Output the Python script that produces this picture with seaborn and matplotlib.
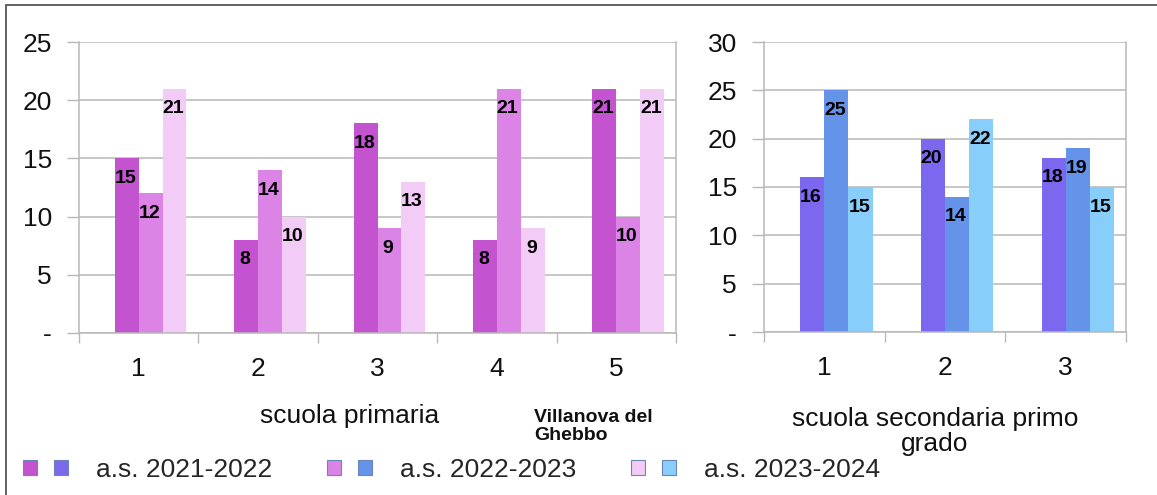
import matplotlib
matplotlib.use("Agg")
import matplotlib.pyplot as plt
from matplotlib.patches import Patch, Rectangle
from matplotlib.legend_handler import HandlerTuple
import seaborn as sns
import pandas as pd

# data
anni = ["a.s. 2021-2022", "a.s. 2022-2023", "a.s. 2023-2024"]

classi_primaria = ["1", "2", "3", "4", "5"]
primaria_2122 = [15, 8, 18, 8, 21]
primaria_2223 = [12, 14, 9, 21, 10]
primaria_2324 = [21, 10, 13, 9, 21]

classi_secondaria = ["1", "2", "3"]
secondaria_2122 = [16, 20, 18]
secondaria_2223 = [25, 14, 19]
secondaria_2324 = [15, 22, 15]

yticks_primaria = [0, 5, 10, 15, 20, 25]
yticks_secondaria = [0, 5, 10, 15, 20, 25, 30]

titolo_primaria = "scuola primaria"
titolo_secondaria = "scuola secondaria primo\ngrado"
nome_comune = "Villanova del\nGhebbo"

colori_primaria = ["#C353CF", "#DB84E6", "#F2CCF6"]
colori_secondaria = ["#7B68EE", "#6493E9", "#87CEFA"]

W, H = 1157, 495
GRID = "#b8b8b8"

sns.set_theme(style="white")
plt.rcParams["font.family"] = ["Liberation Sans", "DejaVu Sans"]


def make_df(classi, serie):
    rows = []
    for anno, valori in zip(anni, serie):
        for c, v in zip(classi, valori):
            rows.append({"classe": c, "anno": anno, "alunni": v})
    return pd.DataFrame(rows)


def draw(ax, classi, serie, colori, yticks):
    df = make_df(classi, serie)
    sns.barplot(data=df, x="classe", y="alunni", hue="anno", hue_order=anni,
                order=classi, palette=colori, width=0.6, saturation=1,
                linewidth=0, legend=False, errorbar=None, ax=ax)
    # shift groups right by half a bar, as in the original layout
    for p in ax.patches:
        p.set_x(p.get_x() + 0.1)
    for cont in ax.containers:
        for p, v in zip(cont, cont.datavalues):
            ax.annotate(f"{v:.0f}", (p.get_x() + p.get_width() / 2, v),
                        xytext=(-1, -14.4), textcoords="offset points",
                        ha="center", va="center", fontsize=14,
                        fontweight="bold", color="black")
    n = len(classi)
    ax.set_xlim(-0.5, n - 0.5)
    ax.set_ylim(yticks[0], yticks[-1])
    ax.set_xticks([i - 0.5 for i in range(n + 1)], labels=[""] * (n + 1))
    ax.set_xticks(range(n), labels=classi, minor=True)
    ax.tick_params(axis="x", which="major", length=7.5, width=1, color=GRID,
                   direction="out", bottom=True)
    ax.tick_params(axis="x", which="minor", length=0, pad=17, labelsize=19,
                   labelcolor="#111111", bottom=True)
    ax.set_yticks(yticks, labels=["-"] + [str(t) for t in yticks[1:]])
    ax.tick_params(axis="y", length=8.5, width=1, color=GRID, pad=11,
                   labelsize=19, labelcolor="#111111", left=True)
    ax.yaxis.grid(True, color=GRID, linewidth=1.1)
    ax.set_axisbelow(True)
    for s in ["left", "right", "bottom"]:
        ax.spines[s].set_visible(True)
        ax.spines[s].set_color(GRID)
        ax.spines[s].set_linewidth(1.1)
    ax.spines["top"].set_visible(False)
    ax.set_xlabel("")
    ax.set_ylabel("")


fig = plt.figure(figsize=(W / 100, H / 100), dpi=100)
ax1 = fig.add_axes([79 / W, 1 - 333 / H, 597 / W, 291 / H])
ax2 = fig.add_axes([764 / W, 1 - 332 / H, 362 / W, 290 / H])

draw(ax1, classi_primaria, [primaria_2122, primaria_2223, primaria_2324],
     colori_primaria, yticks_primaria)
draw(ax2, classi_secondaria, [secondaria_2122, secondaria_2223, secondaria_2324],
     colori_secondaria, yticks_secondaria)

fig.text(350 / W, 1 - 423 / H, titolo_primaria, ha="center", va="baseline",
         fontsize=19, color="#111111")
fig.text(935 / W, 1 - 451 / H, titolo_secondaria, ha="center", va="baseline",
         multialignment="center", fontsize=19, color="#111111", linespacing=1.05)
fig.text(534 / W, 1 - 440 / H, nome_comune, ha="left", va="baseline",
         fontsize=14, fontweight="bold", color="#111111", linespacing=1.05)

# legend: one purple and one blue square per school year
handles = [(Patch(fc=cp, ec="#6a86b8", lw=0.8), Patch(fc=cs, ec="#6a86b8", lw=0.8))
           for cp, cs in zip(colori_primaria, colori_secondaria)]
fig.legend(handles, anni, handler_map={tuple: HandlerTuple(ndivide=None, pad=0.64)},
           loc="center left", bbox_to_anchor=(23 / W, 1 - 470 / H), ncol=3,
           frameon=False, fontsize=19, borderpad=0, borderaxespad=0,
           handlelength=1.7, handleheight=0.53, handletextpad=1.08,
           columnspacing=2.06)

# outer chart frame
fig.patches.append(Rectangle((6 / W, -0.2), 2, 1.2 - 5 / H, fill=False,
                             ec="#555555", lw=1.3, transform=fig.transFigure))

fig.savefig("out.png", dpi=100)
